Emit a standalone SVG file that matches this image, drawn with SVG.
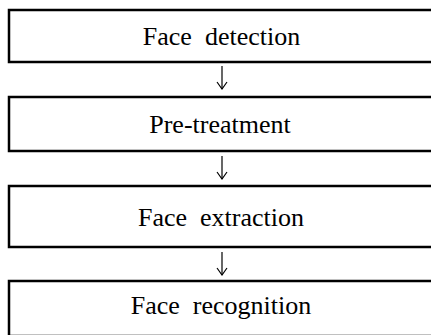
<svg xmlns="http://www.w3.org/2000/svg" width="431" height="335" viewBox="0 0 431 335">
<style>
.box{fill:#fff;stroke:#000;stroke-width:2.5}
.lbl{font-family:"Liberation Serif","Times New Roman",serif;font-size:26px;fill:#000;text-anchor:middle;white-space:pre}
.arr{stroke:#000;stroke-width:1.2;fill:none}
</style>
<defs>
<marker id="ah" viewBox="0 0 10 12" refX="9" refY="6" markerWidth="10" markerHeight="12" markerUnits="userSpaceOnUse" orient="auto">
<path d="M2,1 L9,6 L2,11" fill="none" stroke="#000" stroke-width="1.2"/>
</marker>
</defs>
<rect width="431" height="335" fill="#fff"/>
<g id="node1"><rect class="box" x="9" y="10" width="440" height="52"/><text class="lbl" x="221.5" y="45" xml:space="preserve">Face  detection</text></g>
<g id="node2"><rect class="box" x="9" y="97" width="440" height="54"/><text class="lbl" x="220" y="133">Pre-treatment</text></g>
<g id="node3"><rect class="box" x="9" y="186" width="440" height="61"/><text class="lbl" x="221" y="226" xml:space="preserve">Face  extraction</text></g>
<g id="node4"><rect class="box" x="9" y="281" width="440" height="55"/><text class="lbl" x="221" y="314" xml:space="preserve">Face  recognition</text></g>
<g id="connectors">
<line class="arr" x1="222" y1="66" x2="222" y2="89" marker-end="url(#ah)"/>
<line class="arr" x1="222" y1="156" x2="222" y2="179" marker-end="url(#ah)"/>
<line class="arr" x1="222" y1="252" x2="222" y2="275" marker-end="url(#ah)"/>
</g>
</svg>
